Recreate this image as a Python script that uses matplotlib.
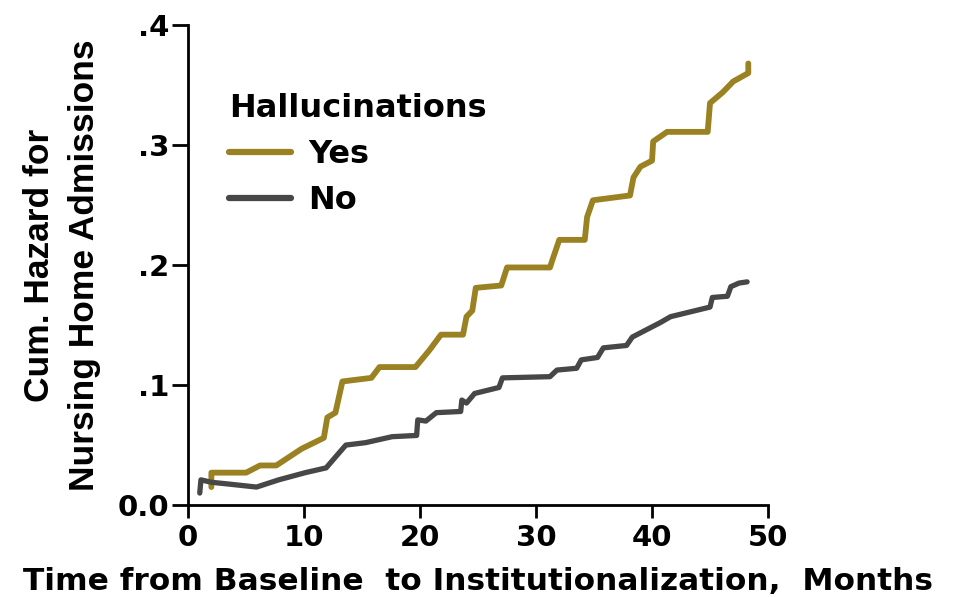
import matplotlib.pyplot as plt

plt.rcParams['font.family'] = ['DejaVu Sans']
plt.rcParams['font.weight'] = 'bold'

# Hallucinations = Yes (gold)
yes_months = [2.0, 2.0, 5.0, 6.2, 7.6, 9.8, 11.7, 12.0, 12.7, 13.3, 15.8, 16.5, 19.6,
              20.8, 21.8, 23.7, 24.0, 24.5, 24.8, 27.0, 27.5, 31.2, 31.4, 32.0, 34.2,
              34.4, 34.9, 38.1, 38.4, 39.0, 40.0, 40.1, 41.3, 44.8, 45.0, 46.1, 47.0,
              48.3, 48.3]
yes_hazard = [0.015, 0.027, 0.027, 0.033, 0.033, 0.047, 0.056, 0.073, 0.077, 0.103, 0.106,
              0.115, 0.115, 0.129, 0.142, 0.142, 0.157, 0.162, 0.181, 0.183, 0.198, 0.198,
              0.204, 0.221, 0.221, 0.240, 0.254, 0.258, 0.273, 0.282, 0.287, 0.303, 0.311,
              0.311, 0.335, 0.344, 0.353, 0.360, 0.368]

# Hallucinations = No (gray)
no_months = [1.0, 1.1, 2.0, 3.5, 5.9, 7.8, 10.1, 11.9, 12.7, 13.6, 15.3, 17.6, 19.7, 19.8,
             20.5, 21.4, 23.5, 23.6, 24.0, 24.7, 26.8, 27.1, 31.2, 31.8, 33.5, 33.9, 35.3,
             35.8, 37.8, 38.3, 40.7, 41.6, 45.0, 45.2, 46.5, 46.8, 47.5, 48.2]
no_hazard = [0.010, 0.021, 0.019, 0.0175, 0.015, 0.021, 0.027, 0.031, 0.040, 0.050, 0.052,
             0.057, 0.058, 0.071, 0.070, 0.077, 0.078, 0.0875, 0.085, 0.093, 0.098, 0.106,
             0.107, 0.1125, 0.114, 0.121, 0.123, 0.131, 0.133, 0.140, 0.152, 0.157, 0.165,
             0.173, 0.174, 0.182, 0.185, 0.186]

xticks = [0, 10, 20, 30, 40, 50]
yticks = [0.0, 0.1, 0.2, 0.3, 0.4]
ytick_labels = ['0.0', '.1', '.2', '.3', '.4']

fig = plt.figure(figsize=(9.6, 5.97), dpi=100)
ax = fig.add_axes([0.196, 0.154, 0.604, 0.804])

ax.plot(yes_months, yes_hazard, color='#9a8222', lw=4.2, label='Yes',
        solid_joinstyle='round', solid_capstyle='round')
ax.plot(no_months, no_hazard, color='#474747', lw=3.8, label='No',
        solid_joinstyle='round', solid_capstyle='round')

ax.set_xlim(0, 50)
ax.set_ylim(0, 0.4)
ax.set_xticks(xticks)
ax.set_yticks(yticks)
ax.set_yticklabels(ytick_labels)
ax.tick_params(labelsize=21, width=2, direction='out')
ax.tick_params(axis='x', length=9.5, pad=4)
ax.tick_params(axis='y', length=11.5, pad=2)
for s in ['top', 'right']:
    ax.spines[s].set_visible(False)
for s in ['left', 'bottom']:
    ax.spines[s].set_linewidth(2)

ax.set_xlabel('Time from Baseline  to Institutionalization,  Months', fontsize=22.5,
              fontweight='bold', labelpad=11)
ax.set_ylabel('Cum. Hazard for\nNursing Home Admissions', fontsize=25.5,
              fontweight='bold', labelpad=12, linespacing=1.47,
              family=['Liberation Sans', 'DejaVu Sans'])

leg = ax.legend(title='Hallucinations', loc='upper left', bbox_to_anchor=(0.043, 0.891),
                frameon=False, fontsize=23, title_fontsize=23, alignment='left',
                borderpad=0, handlelength=1.94, handletextpad=0.53, labelspacing=0.47)
leg.get_title().set_fontweight('bold')
for h in leg.get_lines():
    h.set_linewidth(4.5)

fig.savefig('out.png', dpi=100)
